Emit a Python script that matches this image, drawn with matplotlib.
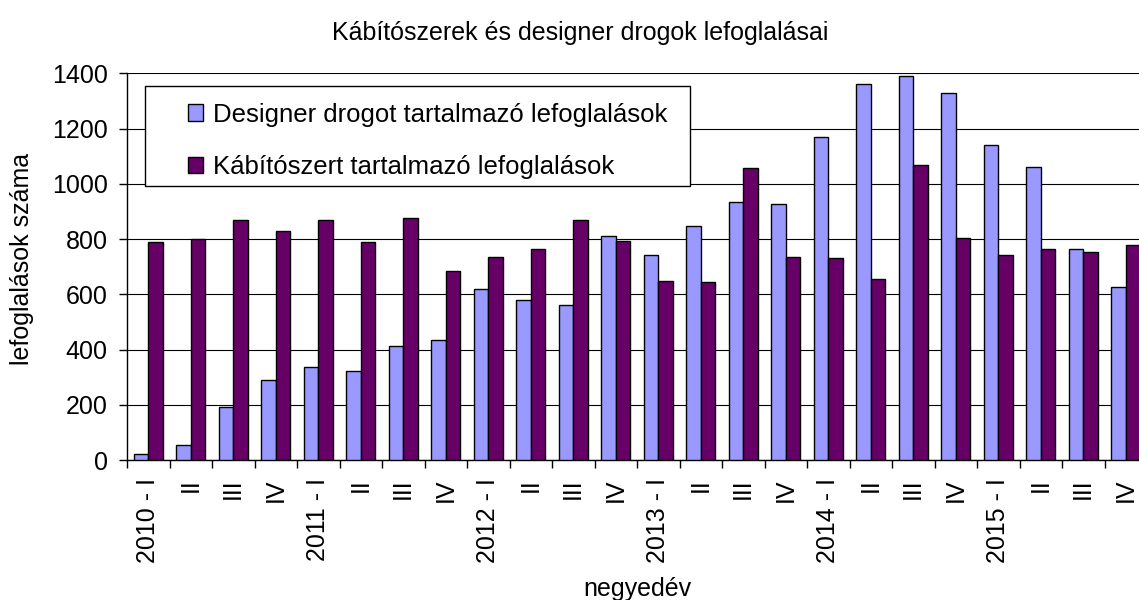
import matplotlib
matplotlib.use("Agg")
import matplotlib.pyplot as plt
from matplotlib.patches import Rectangle
import numpy as np

plt.rcParams['font.family'] = ['Liberation Sans', 'DejaVu Sans']

quarters = ["2010 - I", "II", "III", "IV",
            "2011 - I", "II", "III", "IV",
            "2012 - I", "II", "III", "IV",
            "2013 - I", "II", "III", "IV",
            "2014 - I", "II", "III", "IV",
            "2015 - I", "II", "III", "IV"]
designer = [22, 56, 191, 290, 337, 324, 412, 436, 620, 579, 561, 812,
            742, 847, 933, 927, 1171, 1363, 1392, 1328, 1142, 1062, 765, 626]
kabito = [788, 800, 869, 829, 869, 788, 875, 684, 736, 765, 869, 794,
          649, 643, 1056, 736, 730, 655, 1067, 805, 742, 765, 753, 777]
label_designer = "Designer drogot tartalmazó lefoglalások"
label_kabito = "Kábítószert tartalmazó lefoglalások"
title = "Kábítószerek és designer drogok lefoglalásai"
xlabel = "negyedév"
ylabel = "lefoglalások száma"

W, H = 1139, 600
FS = 18
fig = plt.figure(figsize=(W / 100, H / 100), dpi=100)
ax = fig.add_axes([127 / W, (H - 460) / H, (1147 - 127) / W, (460 - 73.3) / H])

x = np.arange(len(quarters))
bw = 0.345
ax.bar(x - bw / 2, designer, width=bw, color="#9999FF", edgecolor="black",
       linewidth=1, label=label_designer, zorder=3)
ax.bar(x + bw / 2, kabito, width=bw, color="#660066", edgecolor="black",
       linewidth=1, label=label_kabito, zorder=3)

ax.set_xlim(-0.5, len(quarters) - 0.5)
ax.set_ylim(0, 1400)
ax.set_yticks(np.arange(0, 1401, 200))
ax.yaxis.grid(True, color="black", linewidth=0.8, zorder=0)
ax.set_axisbelow(True)

ax.set_xticks(np.arange(-0.5, len(quarters), 1.0))
ax.set_xticklabels([])
ax.set_xticks(x, minor=True)
ax.set_xticklabels(quarters, minor=True, rotation=90, va="top", ha="center")
ax.tick_params(axis="x", which="major", length=6, width=1, direction="out")
ax.tick_params(axis="x", which="minor", length=0, pad=13, labelsize=FS)
ax.tick_params(axis="y", length=6, width=1, direction="out", labelsize=FS, pad=8)

for s in ["top", "right"]:
    ax.spines[s].set_visible(False)
ax.spines["left"].set_linewidth(1)
ax.spines["bottom"].set_linewidth(1)

fig.text(580 / W, 1 - 33 / H, title, ha="center", va="center", fontsize=FS)
fig.text(637 / W, 1 - 589 / H, xlabel, ha="center", va="center", fontsize=FS)
fig.text(22 / W, 1 - 259 / H, ylabel, ha="center", va="center", rotation=90, fontsize=FS)

# legend box
box = Rectangle((145 / W, (H - 186) / H), 545 / W, 100.3 / H,
                transform=fig.transFigure, facecolor="white",
                edgecolor="black", linewidth=1, zorder=5, clip_on=False)
ax.add_artist(box)
leg = ax.legend(loc="upper left",
                bbox_to_anchor=(180 / W, (H - 95) / H),
                bbox_transform=fig.transFigure, borderaxespad=0,
                fontsize=18.5, frameon=False, borderpad=0.3,
                handlelength=0.6, handleheight=0.6, handletextpad=0.4,
                labelspacing=1.1)
leg.set_zorder(6)

fig.savefig("out.png", dpi=100)
